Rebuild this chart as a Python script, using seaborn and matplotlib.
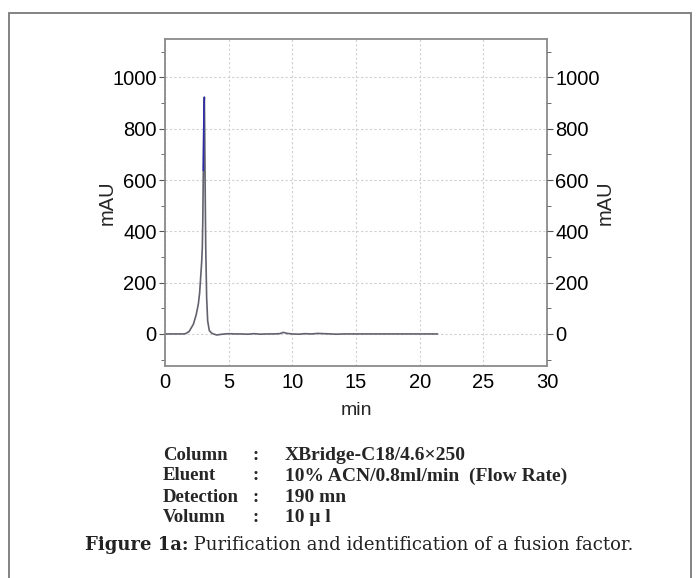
import numpy as np
import pandas as pd
import matplotlib
matplotlib.use("Agg")
import matplotlib.pyplot as plt
from matplotlib.patches import Rectangle
from matplotlib.ticker import MultipleLocator
import seaborn as sns

# chromatogram trace (min, mAU)
time_min = [0.0, 1.0, 1.5, 1.65, 1.9, 2.23, 2.45, 2.62, 2.72, 2.80, 2.88, 2.93,
            2.97, 3.01, 3.06, 3.09, 3.12, 3.14, 3.17, 3.20, 3.27, 3.35, 3.48,
            3.65, 3.80, 4.06, 4.5, 5.0, 5.5, 6.0, 6.5, 7.0, 7.5, 8.0, 8.5,
            9.0, 9.3, 9.6, 10.0, 10.5, 11.0, 11.5, 12.0, 12.5, 13.0, 13.5,
            14.0, 15.0, 16.0, 17.0, 18.0, 19.0, 20.0, 21.4]
absorb_mau = [0, 0, 0, 2, 10, 38, 75, 117, 160, 220, 280, 337,
              450, 637, 884, 923, 780, 650, 480, 337, 142, 51, 13,
              4, 0, -4, -1, 1, 0, 0, -1, 1, -1, 0, 0,
              1, 6, 2, 0, -1, 1, 0, 2, 1, 0, -1,
              0, 0, 0, 0, 0, 0, 0, 0]

# blue overlay at the apex
apex_time = [3.01, 3.06, 3.09]
apex_mau = [637, 884, 923]

info_keys = ["Column", "Eluent", "Detection", "Volumn"]
info_vals = ["XBridge-C18/4.6×250", "10% ACN/0.8ml/min  (Flow Rate)", "190 mn", "10 μ l"]

x_ticks = [0, 5, 10, 15, 20, 25, 30]
y_ticks = [0, 200, 400, 600, 800, 1000]

W, H = 700, 578


def main():
    sns.set_style("white")
    plt.rcParams['font.family'] = ['Liberation Sans', 'DejaVu Sans']

    fig = plt.figure(figsize=(W / 100, H / 100), dpi=100)
    ax = fig.add_axes([165 / W, 1 - 366 / H, (547 - 165) / W, (366 - 39) / H])

    df = pd.DataFrame({"min": time_min, "mAU": absorb_mau})
    sns.lineplot(data=df, x="min", y="mAU", ax=ax, color="#62626e", lw=1.2, sort=False)
    apex = pd.DataFrame({"min": apex_time, "mAU": apex_mau})
    sns.lineplot(data=apex, x="min", y="mAU", ax=ax, color="#2a2ab0", lw=1.1, sort=False)

    ax.set_xlim(0, 30)
    ax.set_ylim(-125, 1150)
    ax.set_xticks(x_ticks)
    ax.set_yticks(y_ticks)
    ax.xaxis.set_minor_locator(MultipleLocator(1))
    ax.yaxis.set_minor_locator(MultipleLocator(100))
    ax.grid(True, which="major", ls=(0, (2, 2)), color="#d0d0d0", lw=0.8)
    for s in ax.spines.values():
        s.set_color("#8a8a8a")
        s.set_linewidth(1.3)
    ax.tick_params(axis="x", which="both", direction="in", colors="#555555",
                   labelcolor="black", labelsize=14.5, pad=5)
    ax.tick_params(axis="x", which="major", length=4)
    ax.tick_params(axis="x", which="minor", length=3)
    ax.tick_params(axis="y", which="both", direction="out", colors="#555555",
                   labelcolor="black", labelsize=14.5, pad=2)
    ax.tick_params(axis="y", which="major", length=4)
    ax.tick_params(axis="y", which="minor", length=3)
    ax.set_xlabel("min", fontsize=14, labelpad=7)
    ax.set_ylabel("mAU", fontsize=14.5, labelpad=-3)

    ax2 = ax.twinx()
    ax2.set_ylim(ax.get_ylim())
    ax2.set_yticks(y_ticks)
    ax2.yaxis.set_minor_locator(MultipleLocator(100))
    ax2.tick_params(axis="y", which="both", direction="out", colors="#555555",
                    labelcolor="black", labelsize=14.5, pad=2)
    ax2.tick_params(axis="y", which="major", length=4)
    ax2.tick_params(axis="y", which="minor", length=3)
    ax2.set_ylabel("mAU", fontsize=14.5, labelpad=-3)
    for s in ax2.spines.values():
        s.set_visible(False)

    # outer frame
    fig.patches.append(Rectangle((9 / W, -0.01), (691 - 9) / W, 1 - 13 / H + 0.01,
                                 transform=fig.transFigure, fill=False,
                                 ec="#7a7a7a", lw=1.3))

    # method block
    serif = ['Liberation Serif', 'DejaVu Serif']
    for i, (k, v) in enumerate(zip(info_keys, info_vals)):
        yy = 1 - (455 + i * 21) / H
        fig.text(163 / W, yy, k, family=serif, weight="bold", fontsize=13.5, va="center")
        fig.text(253 / W, yy, ":", family=serif, weight="bold", fontsize=13.5, va="center")
        fig.text(285 / W, yy, v, family=serif, weight="bold", fontsize=14, va="center")

    # caption
    fig.canvas.draw()
    r = fig.canvas.get_renderer()
    cy = 1 - 545 / H
    cap_font = ['DejaVu Serif']
    t1 = fig.text(0, cy, "Figure 1a:", family=cap_font, weight="bold", fontsize=13,
                  va="center", color="#222222")
    t2 = fig.text(0, cy, " Purification and identification of a fusion factor.",
                  family=cap_font, fontsize=13, va="center", color="#222222")
    w1 = t1.get_window_extent(r).width
    w2 = t2.get_window_extent(r).width
    x0 = 359 - (w1 + w2) / 2
    t1.set_x(x0 / W)
    t2.set_x((x0 + w1) / W)

    fig.savefig("out.png", dpi=100)


if __name__ == "__main__":
    main()
